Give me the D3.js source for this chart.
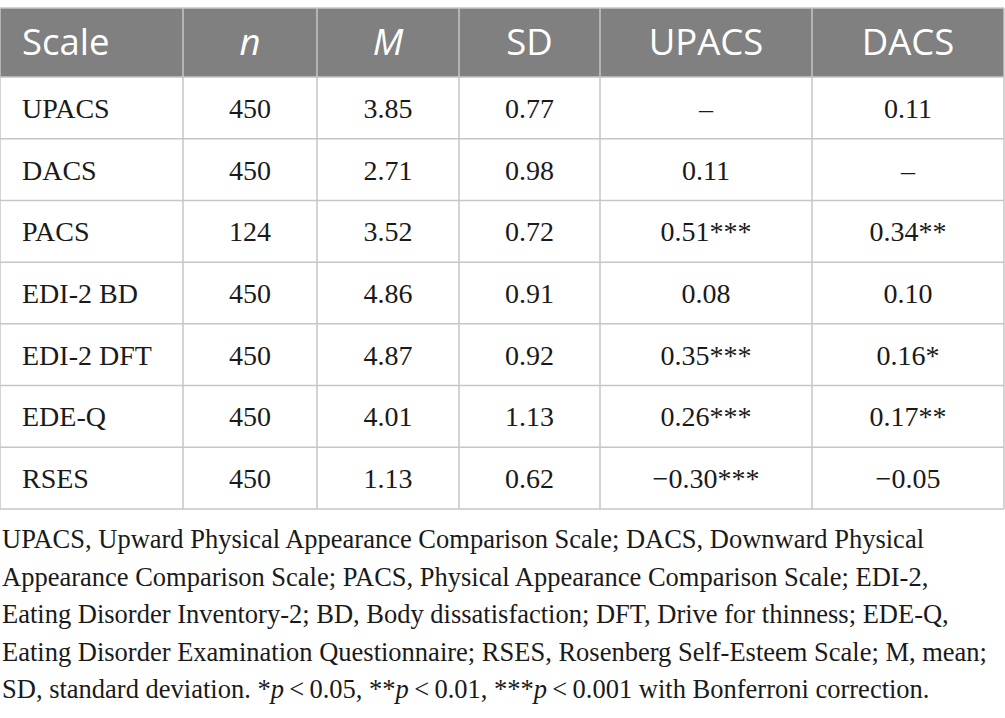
<!DOCTYPE html>
<html>
<head>
<meta charset="utf-8">
<script src="https://cdn.jsdelivr.net/npm/d3@7"></script>
<style>
  body { margin: 0; background: #fff; }
  svg { display: block; }
</style>
</head>
<body>
<div id="table"></div>
<script>
// table contents
var headers = ["Scale", "n", "M", "SD", "UPACS", "DACS"];
var scaleNames = ["UPACS", "DACS", "PACS", "EDI-2 BD", "EDI-2 DFT", "EDE-Q", "RSES"];
var nValues = ["450", "450", "124", "450", "450", "450", "450"];
var means = ["3.85", "2.71", "3.52", "4.86", "4.87", "4.01", "1.13"];
var sds = ["0.77", "0.98", "0.72", "0.91", "0.92", "1.13", "0.62"];
var upacsCorr = ["\u2013", "0.11", "0.51***", "0.08", "0.35***", "0.26***", "\u22120.30***"];
var dacsCorr = ["0.11", "\u2013", "0.34**", "0.10", "0.16*", "0.17**", "\u22120.05"];

var footLines = [
  "UPACS, Upward Physical Appearance Comparison Scale; DACS, Downward Physical",
  "Appearance Comparison Scale; PACS, Physical Appearance Comparison Scale; EDI-2,",
  "Eating Disorder Inventory-2; BD, Body dissatisfaction; DFT, Drive for thinness; EDE-Q,",
  "Eating Disorder Examination Questionnaire; RSES, Rosenberg Self-Esteem Scale; M, mean;"
];

var svgWidth = 1005;
var svgHeight = 718;

var colEdges = [0, 183, 317, 459, 600, 812, 1004];
var headTop = 8, headBottom = 77, tableBottom = 509;
var lineColor = "#c6c6c6";
var serif = "'Liberation Serif', 'Times New Roman', serif";
var sans = "'Open Sans', 'Noto Sans', sans-serif";

var svg = d3.select("#table")
  .append("svg")
  .attr("width", svgWidth)
  .attr("height", svgHeight);

var y = d3.scaleBand()
  .domain(scaleNames)
  .range([headBottom, tableBottom]);

// header band
svg.append("rect")
  .attr("x", colEdges[0])
  .attr("y", headTop)
  .attr("width", colEdges[6] - colEdges[0])
  .attr("height", headBottom - headTop)
  .attr("fill", "#808080");

svg.selectAll(".head")
  .data(headers)
  .enter()
  .append("text")
  .attr("class", "head")
  .attr("x", (d, i) => i === 0 ? colEdges[0] + 22 : (colEdges[i] + colEdges[i + 1]) / 2)
  .attr("y", headBottom - 22)
  .attr("text-anchor", (d, i) => i === 0 ? "start" : "middle")
  .attr("font-family", sans)
  .attr("font-size", 36.5)
  .attr("font-style", (d, i) => (i === 1 || i === 2) ? "italic" : "normal")
  .attr("fill", "#fff")
  .text(d => d);

// grid lines
svg.selectAll(".hline")
  .data(scaleNames.slice(1))
  .enter()
  .append("line")
  .attr("x1", colEdges[0]).attr("x2", colEdges[6])
  .attr("y1", d => y(d)).attr("y2", d => y(d))
  .attr("stroke", lineColor).attr("stroke-width", 1.5);

svg.selectAll(".vline")
  .data(colEdges)
  .enter()
  .append("line")
  .attr("x1", d => d).attr("x2", d => d)
  .attr("y1", headTop).attr("y2", tableBottom)
  .attr("stroke", lineColor).attr("stroke-width", 1.5);

[headTop, headBottom, tableBottom].forEach(function(yy) {
  svg.append("line")
    .attr("x1", colEdges[0]).attr("x2", colEdges[6])
    .attr("y1", yy).attr("y2", yy)
    .attr("stroke", lineColor).attr("stroke-width", 1.5);
});

// body cells
var columns = [scaleNames, nValues, means, sds, upacsCorr, dacsCorr];
columns.forEach(function(col, ci) {
  svg.selectAll(".c" + ci)
    .data(col)
    .enter()
    .append("text")
    .attr("x", ci === 0 ? colEdges[0] + 22 : (colEdges[ci] + colEdges[ci + 1]) / 2)
    .attr("y", (d, i) => y(scaleNames[i]) + y.bandwidth() / 2 + 10)
    .attr("text-anchor", ci === 0 ? "start" : "middle")
    .attr("font-family", serif)
    .attr("font-size", 28)
    .attr("fill", "#1a1a1a")
    .text(d => d);
});

// footnote
var footY = 548, footStep = 37.5;
svg.selectAll(".foot")
  .data(footLines)
  .enter()
  .append("text")
  .attr("x", 2)
  .attr("y", (d, i) => footY + i * footStep)
  .attr("font-family", serif)
  .attr("font-size", 26.5)
  .attr("fill", "#1a1a1a")
  .text(d => d);

var last = svg.append("text")
  .attr("x", 2)
  .attr("y", footY + 4 * footStep)
  .attr("font-family", serif)
  .attr("font-size", 26.5)
  .attr("fill", "#1a1a1a");
var parts = [
  ["SD, standard deviation. *", false], ["p", true], ["\u2009<\u20090.05, **", false],
  ["p", true], ["\u2009<\u20090.01, ***", false], ["p", true],
  ["\u2009<\u20090.001 with Bonferroni correction.", false]
];
parts.forEach(function(p) {
  last.append("tspan")
    .attr("font-style", p[1] ? "italic" : "normal")
    .text(p[0]);
});
</script>
</body>
</html>
